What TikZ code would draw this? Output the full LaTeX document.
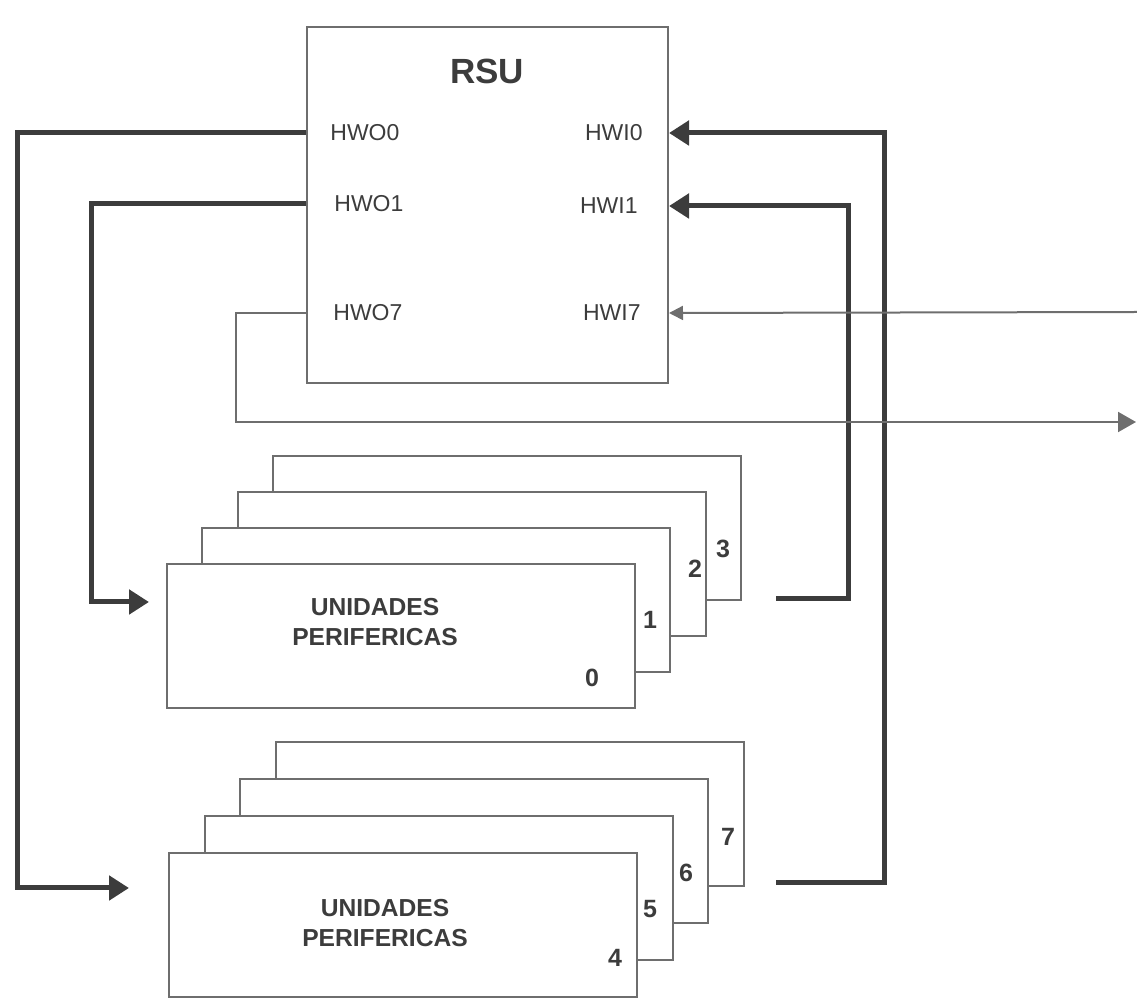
\documentclass[tikz,border=0pt]{standalone}
\usepackage{fontspec}
\setmainfont{Liberation Sans}
\usepackage{tikz}
\usetikzlibrary{positioning,arrows.meta,calc}

\definecolor{inkdark}{HTML}{3C3C3C}
\definecolor{inkgray}{HTML}{6E6E6E}

\tikzset{
  unitbox/.style={draw=inkgray, line width=1pt, fill=white, minimum width=234pt, minimum height=72pt, inner sep=0pt},
  port/.style={inner sep=0pt, text=inkdark, font=\fontsize{11.5}{13}\selectfont},
  num/.style={inner sep=0pt, text=inkdark, font=\bfseries\fontsize{12.5}{14}\selectfont},
  unitlabel/.style={inner sep=0pt, align=center, text=inkdark, font=\bfseries\fontsize{12.3}{15}\selectfont},
  bus/.style={draw=inkdark, line width=2.5pt},
  wire/.style={draw=inkgray, line width=1pt},
  bigtip/.style={-{Triangle[length=10pt,width=12pt]}},
}

\begin{document}
\begin{tikzpicture}[x=0.5pt, y=-0.5pt]
\useasboundingbox (0,0) rectangle (1137,999);

% RSU block
\node[draw=inkgray, line width=1pt, minimum width=180.5pt, minimum height=178pt, inner sep=0pt] (rsu) at (487.5,205) {};
\node[text=inkdark, font=\bfseries\fontsize{17.5}{20}\selectfont] (rsutitle) at (487,71) {RSU};

% Ports
\node[port, anchor=west] (hwo0) at (330,133) {HWO0};
\node[port, anchor=west] (hwo1) at (334,204) {HWO1};
\node[port, anchor=west] (hwo7) at (333,313) {HWO7};
\node[port, anchor=east] (hwi0) at (643,133) {HWI0};
\node[port, anchor=east] (hwi1) at (638,206) {HWI1};
\node[port, anchor=east] (hwi7) at (641,313) {HWI7};

% Peripheral units, back to front
\foreach \i in {3,2,1,0}
  \node[unitbox] (u\i) at ({400.5+35.5*\i},{636-36*\i}) {};
\foreach \i in {7,6,5,4}
  \node[unitbox] (u\i) at ({403+35.5*(\i-4)},{925-37*(\i-4)}) {};

\node[unitlabel] (lbla) at (375,622) {UNIDADES\\PERIFERICAS};
\node[unitlabel] (lblb) at (385,923) {UNIDADES\\PERIFERICAS};

% Unit numbers
\node[num] (n0) at (592,678) {0};
\node[num] (n1) at (650,620) {1};
\node[num] (n2) at (695,569) {2};
\node[num] (n3) at (723,549) {3};
\node[num] (n4) at (615,958) {4};
\node[num] (n5) at (650,909) {5};
\node[num] (n6) at (686,873) {6};
\node[num] (n7) at (728,837) {7};

% Free ends
\coordinate (in0) at (149,602);
\coordinate (in4) at (129,888);
\coordinate (ret0) at (776,599);
\coordinate (ret4) at (776,883);
\coordinate (linkin) at (1137,312);
\coordinate (linkout) at (1136,422);

% Buses
\draw[bus, bigtip] (hwo0 -| rsu.west) -- ++(-289,0) |- (in4);
\draw[bus, bigtip] (hwo1 -| rsu.west) -- ++(-215,0) |- (in0);
\draw[bus, bigtip] (ret4) -- ++(108,0) |- (hwi0 -| rsu.east);
\draw[bus, bigtip] (ret0) -- ++(72,0) |- (hwi1 -| rsu.east);

% Link 7
\draw[wire, -{Triangle[length=9pt,width=10pt]}] (hwo7 -| rsu.west) -- ++(-70,0) |- (linkout);
\draw[wire, -{Triangle[length=7pt,width=7pt]}] (linkin) -- (hwi7 -| rsu.east);
\end{tikzpicture}
\end{document}
